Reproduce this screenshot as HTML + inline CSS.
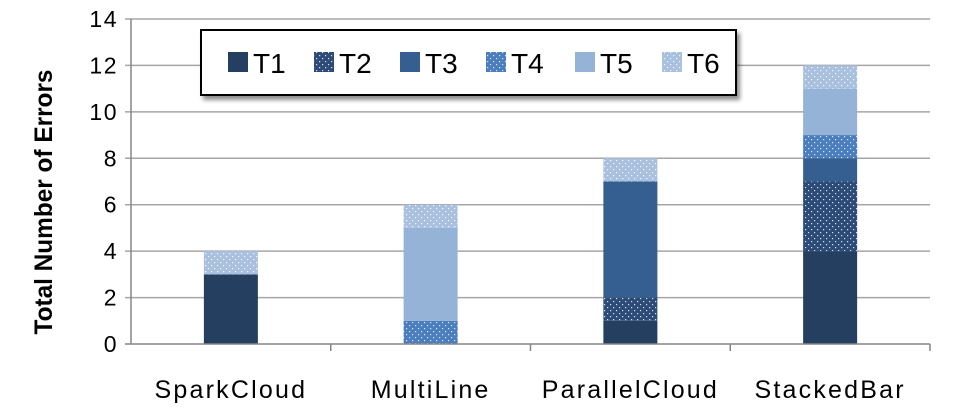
<!DOCTYPE html>
<html><head><meta charset="utf-8"><style>
body{margin:0;background:#fff;}
svg{display:block;font-family:"Liberation Sans",sans-serif;}
</style></head><body>
<svg width="976" height="415" viewBox="0 0 976 415">
<defs>
<pattern id="p2" width="6" height="6" patternUnits="userSpaceOnUse"><rect width="6" height="6" fill="#2d4b78"/><rect x="1" y="1" width="1.2" height="1.2" fill="#d8e0ec"/><rect x="4" y="4" width="1.2" height="1.2" fill="#d8e0ec"/></pattern>
<pattern id="p4" width="6" height="6" patternUnits="userSpaceOnUse"><rect width="6" height="6" fill="#4a7ebf"/><rect x="1" y="1" width="1.2" height="1.2" fill="#e0e8f4"/><rect x="4" y="4" width="1.2" height="1.2" fill="#e0e8f4"/></pattern>
<pattern id="p6" width="6" height="6" patternUnits="userSpaceOnUse"><rect width="6" height="6" fill="#a9c1de"/><rect x="1" y="1" width="1.2" height="1.2" fill="#f4f7fb"/><rect x="4" y="4" width="1.2" height="1.2" fill="#f4f7fb"/></pattern>
<filter id="sh" x="-5%" y="-20%" width="115%" height="160%"><feDropShadow dx="3" dy="4" stdDeviation="2" flood-color="#000" flood-opacity="0.45"/></filter>
</defs>
<g id="grid"></g>
<g id="bars"></g>
<g id="axes"></g>
<text transform="translate(52,202) rotate(-90)" text-anchor="middle" font-size="25" font-weight="bold" fill="#000" textLength="265" lengthAdjust="spacingAndGlyphs">Total Number of Errors</text>
<g id="legend"></g>
</svg>
<script>
const categories=["SparkCloud","MultiLine","ParallelCloud","StackedBar"];
const seriesNames=["T1","T2","T3","T4","T5","T6"];
const T1=[3,0,1,4];
const T2=[0,0,1,3];
const T3=[0,0,5,1];
const T4=[0,1,0,1];
const T5=[0,4,0,2];
const T6=[1,1,1,1];
const yTicks=[0,2,4,6,8,10,12,14];
const series=[T1,T2,T3,T4,T5,T6];
const fills=["#253f60","url(#p2)","#355f91","url(#p4)","#94b3d6","url(#p6)"];
const NS="http://www.w3.org/2000/svg";
const x0=131,x1=930,y0=344,yTop=19,ymax=14;
const y=v=>y0-(y0-yTop)*v/ymax;
const band=(x1-x0)/categories.length;
const cx=i=>x0+band*(i+0.5);
const bw=54;
function mk(t,a,p){const e=document.createElementNS(NS,t);for(const k in a)e.setAttribute(k,a[k]);p.appendChild(e);return e;}
const grid=document.getElementById('grid'),axes=document.getElementById('axes'),bars=document.getElementById('bars'),leg=document.getElementById('legend');
yTicks.forEach(t=>{
 const l=mk('line',{x1:x0-6,x2:x1,y1:y(t),y2:y(t),stroke:t===0?'#868686':'#a6a6a6','stroke-width':1.5},t===0?axes:grid);
 
 
 const tx=mk('text',{x:x0-13,y:y(t)+8,'text-anchor':'end','font-size':23,'letter-spacing':1.5,fill:'#000'},axes);
 
 
 tx.textContent=t;
});
const ya=mk('line',{x1:x0,x2:x0,y1:yTop,y2:y0,stroke:'#868686','stroke-width':1.5},axes);


categories.forEach((c,i)=>{
 const tk=mk('line',{x1:x0+band*(i+1),x2:x0+band*(i+1),y1:y0,y2:y0+7,stroke:'#868686','stroke-width':1.5},axes);
 
 
 const tx=mk('text',{x:cx(i),y:398,'text-anchor':'middle','font-size':25,'letter-spacing':2.2,fill:'#000'},axes);
 
 
 tx.textContent=c;
 let acc=0;
 series.forEach((s,k)=>{
  const v=s[i]; if(!v) return;
  const r=mk('rect',{x:cx(i)-bw/2,y:y(acc+v),width:bw,height:y(acc)-y(acc+v),fill:fills[k]},bars);
  
  
  acc+=v;
 });
});
const box=mk('rect',{x:201,y:30,width:535,height:65,fill:'#fff',stroke:'#000','stroke-width':2,filter:'url(#sh)'},leg);


const lx=[228,314,400,486,575,662];
seriesNames.forEach((n,k)=>{
 const sw=mk('rect',{x:lx[k],y:52,width:20,height:20,fill:fills[k]},leg);
 
 
 const t=mk('text',{x:lx[k]+25,y:73,'font-size':28,fill:'#000'},leg);
 
 
 t.textContent=n;
});
</script>
</body></html>
